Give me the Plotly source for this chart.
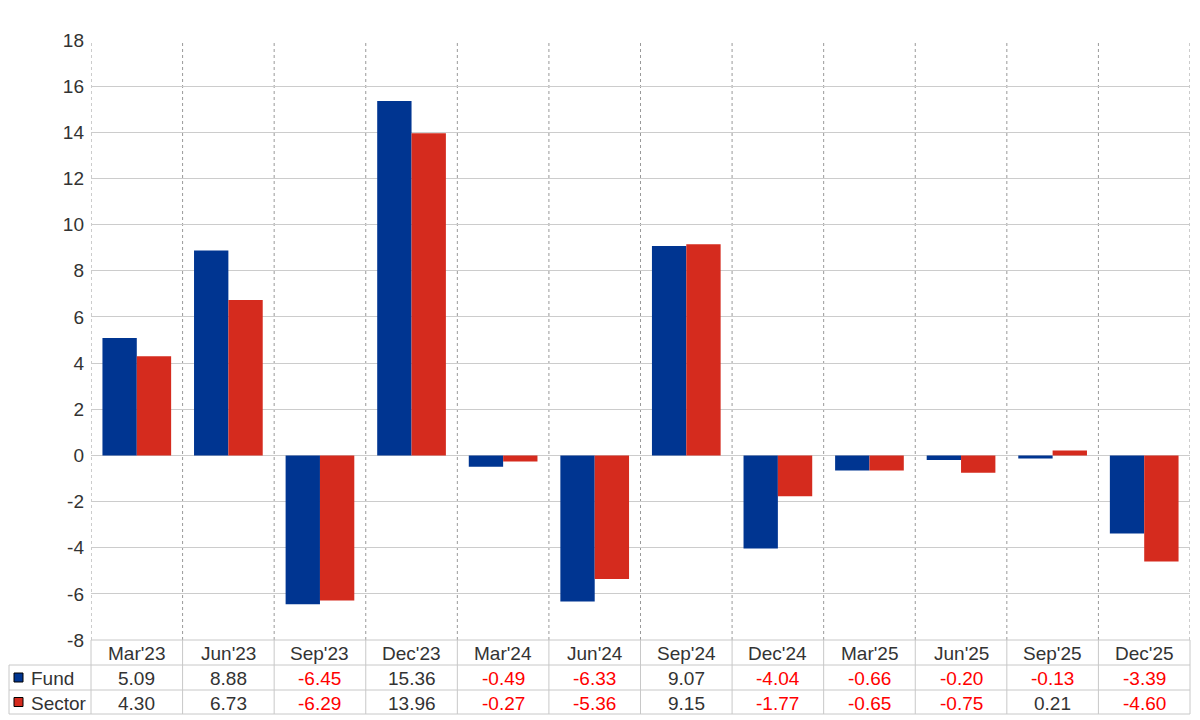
import plotly.graph_objects as go

categories = ["Mar'23", "Jun'23", "Sep'23", "Dec'23", "Mar'24", "Jun'24",
              "Sep'24", "Dec'24", "Mar'25", "Jun'25", "Sep'25", "Dec'25"]
fund = [5.09, 8.88, -6.45, 15.36, -0.49, -6.33, 9.07, -4.04, -0.66, -0.20, -0.13, -3.39]
sector = [4.30, 6.73, -6.29, 13.96, -0.27, -5.36, 9.15, -1.77, -0.65, -0.75, 0.21, -4.60]
series_names = ["Fund", "Sector"]
y_ticks = list(range(-8, 19, 2))
y_tick_labels = [str(v) for v in y_ticks]

FUND_C = "#003591"
SECT_C = "#d52b1e"
TXT = "#333333"
NEG = "#ff0000"
GRID = "#cccccc"
FONT = "Liberation Sans, Arial, sans-serif"
FS = 19

# page has an 8px body margin; figure coordinates are page coordinates - 8
OFF = 8
W, H = 1200 - OFF, 720 - OFF
ML, MT = 91 - OFF, 40 - OFF
PW, PH = 1190 - 91, 640 - 40
MR = W - ML - PW
MB = H - MT - PH


def px_x(x):
    return (x - OFF - ML) / PW


def px_y(y):
    return (MT + PH - (y - OFF)) / PH


n = len(categories)
fig = go.Figure()
fig.add_trace(go.Bar(x=list(range(n)), y=fund, name=series_names[0], marker_color=FUND_C,
                     marker_line_width=0))
fig.add_trace(go.Bar(x=list(range(n)), y=sector, name=series_names[1], marker_color=SECT_C,
                     marker_line_width=0))

shapes = []
annotations = []

# vertical dotted gridlines in plot area
for i in range(n + 1):
    shapes.append(dict(type="line", xref="x", yref="y", x0=i - 0.5, x1=i - 0.5,
                       y0=-8, y1=18, line=dict(color="#999999", width=1, dash="dot"),
                       layer="below"))

# table geometry (page pixels)
row_top = 640
row_h1 = 665
row_h2 = 690
row_bot = 714
tbl_left = 9

line_style = dict(color="#c8c8c8", width=1)
shapes.append(dict(type="line", xref="paper", yref="paper", x0=0, x1=1,
                   y0=px_y(row_top), y1=px_y(row_top), line=line_style))
for yy in (row_h1, row_h2, row_bot):
    shapes.append(dict(type="line", xref="paper", yref="paper", x0=px_x(tbl_left), x1=1,
                       y0=px_y(yy), y1=px_y(yy), line=line_style))
shapes.append(dict(type="line", xref="paper", yref="paper", x0=px_x(tbl_left), x1=px_x(tbl_left),
                   y0=px_y(row_h1), y1=px_y(row_bot), line=line_style))
for i in range(n + 1):
    xp = i / n
    shapes.append(dict(type="line", xref="paper", yref="paper", x0=xp, x1=xp,
                       y0=px_y(row_top), y1=px_y(row_bot), line=line_style))

# header labels
for i, c in enumerate(categories):
    annotations.append(dict(x=(i + 0.5) / n, y=px_y((row_top + row_h1) / 2 + 1), xref="paper", yref="paper",
                            text=c, showarrow=False, xanchor="center", yanchor="middle",
                            font=dict(family=FONT, size=FS, color=TXT)))

# value rows
for vals, name, color, (ya, yb) in ((fund, series_names[0], FUND_C, (row_h1, row_h2)),
                                    (sector, series_names[1], SECT_C, (row_h2, row_bot))):
    yc = (ya + yb) / 2
    shapes.append(dict(type="rect", xref="paper", yref="paper",
                       x0=px_x(14), x1=px_x(23), y0=px_y(yc + 4.5), y1=px_y(yc - 4.5),
                       fillcolor=color, line=dict(color="#000000", width=1)))
    annotations.append(dict(x=px_x(29), y=px_y(yc + 1), xref="paper", yref="paper", text=name,
                            showarrow=False, xanchor="left", yanchor="middle",
                            font=dict(family=FONT, size=FS, color=TXT)))
    for i, v in enumerate(vals):
        annotations.append(dict(x=(i + 0.5) / n, y=px_y(yc + 1), xref="paper", yref="paper",
                                text=f"{v:.2f}", showarrow=False, xanchor="center", yanchor="middle",
                                font=dict(family=FONT, size=FS, color=NEG if v < 0 else TXT)))

fig.update_layout(
    width=W, height=H,
    margin=dict(l=ML, r=MR, t=MT, b=MB),
    paper_bgcolor="white", plot_bgcolor="white",
    barmode="group", bargap=0.25, bargroupgap=0,
    showlegend=False,
    shapes=shapes, annotations=annotations,
    font=dict(family=FONT, size=FS, color=TXT),
    xaxis=dict(range=[-0.5, n - 0.5], showgrid=False, showticklabels=False, zeroline=False,
               showline=False, ticks=""),
    yaxis=dict(range=[-8, 18], tickvals=y_ticks, ticktext=y_tick_labels, showgrid=True,
               gridcolor=GRID, gridwidth=1,
               zeroline=True, zerolinecolor=GRID, zerolinewidth=1, showline=False, ticks="",
               tickfont=dict(family=FONT, size=FS, color=TXT), ticklabelstandoff=6),
)

fig.write_html("out.html")
